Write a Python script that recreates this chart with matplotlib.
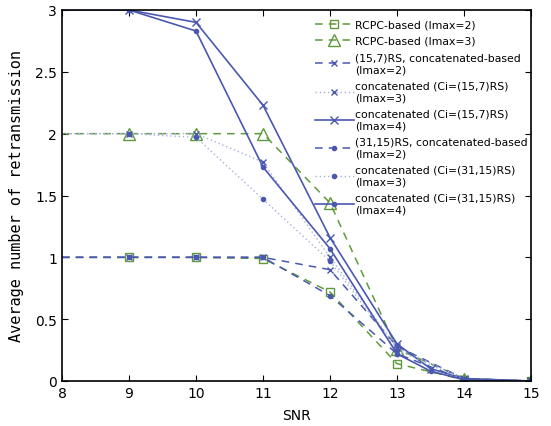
import matplotlib
matplotlib.use("Agg")
import matplotlib.pyplot as plt
from matplotlib.lines import Line2D

plt.rcParams["font.family"] = ["DejaVu Sans"]

snr = [8, 9, 10, 11, 12, 13, 14, 15]
snr_fine = [8, 9, 10, 11, 12, 13, 13.5, 14, 15]

rcpc_i2 = [1, 1, 1, 0.99, 0.72, 0.14, 0.01, 0]
rcpc_i3 = [2, 2, 2, 2, 1.44, 0.26, 0.02, 0]
rs157_i2 = [1, 1, 1, 1, 0.90, 0.28, 0.02, 0]
rs157_i3 = [2, 2, 2, 1.77, 1.0, 0.27, 0.02, 0]
rs157_i4 = [3, 3, 2.90, 2.23, 1.16, 0.30, 0.10, 0.02, 0]
rs3115_i2 = [1, 1, 1, 1, 0.69, 0.22, 0.01, 0]
rs3115_i3 = [2, 2, 1.97, 1.47, 0.97, 0.25, 0.01, 0]
rs3115_i4 = [3, 3, 2.83, 1.73, 1.07, 0.22, 0.08, 0.01, 0]

labels = [
    "RCPC-based (Imax=2)",
    "RCPC-based (Imax=3)",
    "(15,7)RS, concatenated-based\n(Imax=2)",
    "concatenated (Ci=(15,7)RS)\n(Imax=3)",
    "concatenated (Ci=(15,7)RS)\n(Imax=4)",
    "(31,15)RS, concatenated-based\n(Imax=2)",
    "concatenated (Ci=(31,15)RS)\n(Imax=3)",
    "concatenated (Ci=(31,15)RS)\n(Imax=4)",
]

green = "#5f9a3c"
blue = "#4a58b0"
lblue = "#a8b0dc"

styles = [
    dict(ls=(0, (5, 4)), color=green, lw=1.1, marker="s", ms=6, mfc="none", mec=green),
    dict(ls=(0, (5, 4)), color=green, lw=1.1, marker="^", ms=8, mfc="none", mec=green),
    dict(ls=(0, (5, 4)), color=blue, lw=1.1, marker="x", ms=5, mec=blue),
    dict(ls=(0, (1, 2)), color=lblue, lw=1.0, marker="x", ms=5, mec=blue),
    dict(ls="-", color=blue, lw=1.2, marker="x", ms=6, mec=blue),
    dict(ls=(0, (5, 4)), color=blue, lw=1.1, marker=".", ms=6, mec=blue, mfc=blue),
    dict(ls=(0, (1, 2)), color=lblue, lw=1.0, marker=".", ms=6, mec=blue, mfc=blue),
    dict(ls="-", color=blue, lw=1.2, marker=".", ms=6, mec=blue, mfc=blue),
]
xs = [snr, snr, snr, snr, snr_fine, snr, snr, snr_fine]
ys = [rcpc_i2, rcpc_i3, rs157_i2, rs157_i3, rs157_i4, rs3115_i2, rs3115_i3, rs3115_i4]

fig = plt.figure(figsize=(5.51, 4.27), dpi=100)
ax = fig.add_axes([62/551, 45/427, (531-62)/551, (382-11)/427])

handles = []
for x, y, st in zip(xs, ys, styles):
    ax.plot(x, y, markevery=slice(1, None), **st)
    handles.append(Line2D([], [], **st))

ax.set_xlim(8, 15)
ax.set_ylim(0, 3)
ax.set_xticks([8, 9, 10, 11, 12, 13, 14, 15])
ax.set_yticks([0, 0.5, 1, 1.5, 2, 2.5, 3])
ax.set_yticklabels(["0", "0.5", "1", "1.5", "2", "2.5", "3"])
ax.tick_params(direction="in", labelsize=10, length=4, top=True, right=True)
for s in ax.spines.values():
    s.set_linewidth(1.2)
ax.set_xlabel("SNR", fontsize=10, labelpad=6)
ax.set_ylabel("Average number of retransmission", fontsize=11, family="DejaVu Sans Mono", labelpad=8)

leg = ax.legend(handles, labels, loc="upper right", bbox_to_anchor=(1.01, 0.995), frameon=False, fontsize=7.8,
                handlelength=3.6, handletextpad=0.15, labelspacing=0.6, borderpad=0.2)
fig.savefig("out.png", dpi=100)
